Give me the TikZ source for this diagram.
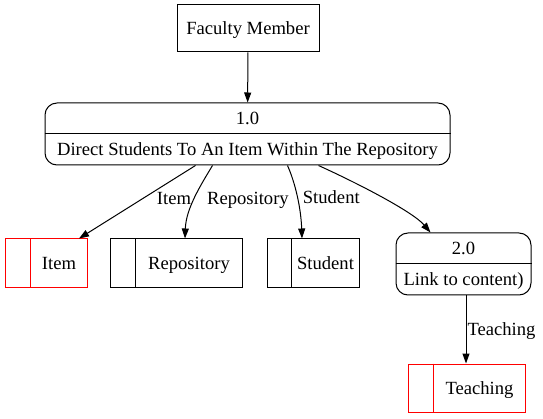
\documentclass[tikz,border=0pt]{standalone}
\usepackage{fontspec}
\setmainfont{Liberation Serif}
\usetikzlibrary{arrows.meta, calc}

\begin{document}
\begin{tikzpicture}[x=1pt, y=-1pt, >={Triangle[length=10pt, width=7pt]},
    every node/.style={font=\fontsize{18.6}{22}\selectfont, text height=12.5pt, text depth=0pt},
    entity/.style={draw, line width=1pt, minimum width=142pt, minimum height=47pt},
    process/.style={draw, line width=1pt, rounded corners=12pt},
    store/.style={draw, line width=1pt, minimum height=49pt},
    flow/.style={->, line width=1pt}]
    \useasboundingbox (0,0) rectangle (543,419);

    % External entity
    \node[entity] (fac) at (248,28.5) {Faculty Member};

    % Processes
    \node[process, minimum width=405pt, minimum height=62pt] (p1) at (247.5,134) {};
    \draw[line width=1pt] (p1.west) -- (p1.east);
    \node (p1num) at ([yshift=15.5pt]p1.center) {1.0};
    \node (p1txt) at ([yshift=-15.5pt]p1.center) {Direct Students To An Item Within The Repository};

    \node[process, minimum width=135pt, minimum height=62pt] (p2) at (463.5,264) {};
    \draw[line width=1pt] (p2.west) -- (p2.east);
    \node (p2num) at ([yshift=15.5pt]p2.center) {2.0};
    \node (p2txt) at ([yshift=-15.5pt]p2.center) {Link to content)};

    % Data stores
    \node[store, red, minimum width=82pt] (item) at (46,263.5) {};
    \draw[red, line width=1pt] ([xshift=26pt]item.north west) -- ([xshift=26pt]item.south west);
    \node (itemlbl) at ([xshift=13pt]item.center) {Item};

    \node[store, minimum width=132pt] (repo) at (176,263.5) {};
    \draw[line width=1pt] ([xshift=26pt]repo.north west) -- ([xshift=26pt]repo.south west);
    \node (repolbl) at ([xshift=13pt]repo.center) {Repository};

    \node[store, minimum width=92pt] (stud) at (313,263.5) {};
    \draw[line width=1pt] ([xshift=25pt]stud.north west) -- ([xshift=25pt]stud.south west);
    \node (studlbl) at ([xshift=12.5pt]stud.center) {Student};

    \node[store, red, minimum width=117pt, minimum height=48pt] (teach) at (466.5,388) {};
    \draw[red, line width=1pt] ([xshift=26pt]teach.north west) -- ([xshift=26pt]teach.south west);
    \node (teachlbl) at ([xshift=13pt]teach.center) {Teaching};

    % Flows
    \draw[flow] (fac) -- (p1);
    \draw[flow] ([xshift=-52pt]p1.south) -- node[pos=0.45, anchor=west, xshift=10pt] {Item} ([xshift=33pt]item.north);
    \draw[flow] ([xshift=-35pt]p1.south) .. controls ([xshift=-47pt, yshift=-20pt]p1.south) and ([xshift=10pt, yshift=30pt]repo.north) .. node[pos=0.5, anchor=west, inner sep=1pt, xshift=11pt] {Repository} ([xshift=9pt]repo.north);
    \draw[flow] ([xshift=40pt]p1.south) .. controls ([xshift=48pt, yshift=-18pt]p1.south) and ([xshift=-12pt, yshift=30pt]stud.north) .. node[pos=0.5, anchor=west, inner sep=1pt, xshift=4pt] {Student} ([xshift=-11pt]stud.north);
    \draw[flow] ([xshift=71pt]p1.south) .. controls ([xshift=115pt, yshift=-20pt]p1.south) and ([xshift=-50pt, yshift=20pt]p2.north) .. ([xshift=-33pt]p2.north);
    \draw[flow] ([xshift=2.5pt]p2.south) -- node[anchor=west, inner sep=1pt] {Teaching} ([xshift=2.5pt]p2.south |- teach.north);

\end{tikzpicture}
\end{document}
